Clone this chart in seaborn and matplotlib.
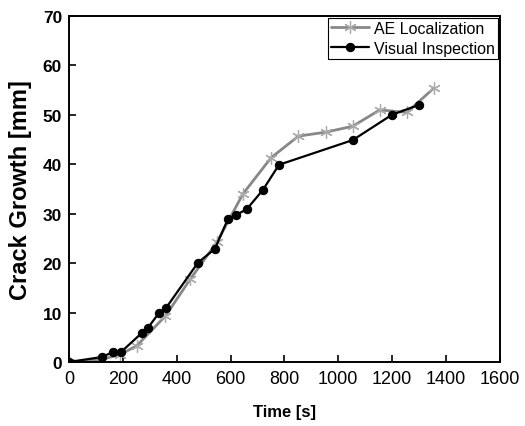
import matplotlib
matplotlib.use("Agg")
import matplotlib.pyplot as plt
import seaborn as sns
import pandas as pd

sns.set_theme(style="white")
plt.rcParams['font.family'] = ['Liberation Sans', 'DejaVu Sans']
plt.rcParams['text.color'] = 'black'
plt.rcParams['axes.labelcolor'] = 'black'
plt.rcParams['xtick.color'] = 'black'
plt.rcParams['ytick.color'] = 'black'

ae_time = [0, 120, 190, 252, 358, 451, 550, 646, 750, 852, 954, 1054, 1154, 1255, 1355]
ae_crack = [0, 0.5, 1.5, 3.3, 9.3, 16.8, 24.3, 34.0, 41.3, 45.7, 46.5, 47.7, 51.0, 50.5, 55.4]

vi_time = [0, 122, 163, 193, 271, 293, 334, 360, 479, 542, 590, 622, 660, 720, 780, 1054, 1199, 1299]
vi_crack = [0, 1.0, 2.0, 2.0, 5.9, 6.9, 9.9, 10.9, 20.1, 22.9, 28.9, 29.8, 30.9, 34.8, 39.9, 44.9, 50.0, 52.0]

x_ticks = [0, 200, 400, 600, 800, 1000, 1200, 1400, 1600]
y_ticks = [0, 10, 20, 30, 40, 50, 60, 70]

fig = plt.figure(figsize=(5.25, 4.27), dpi=100)
ax = fig.add_axes([0.1314, 0.1499, 0.8206, 0.8103])

sns.lineplot(x=ae_time, y=ae_crack, ax=ax, sort=False, color="#888888", linewidth=2,
             marker=(6, 2, 0), markersize=9, markeredgecolor="#aaaaaa",
             markerfacecolor="#aaaaaa", markeredgewidth=0.9, label="AE Localization")
sns.lineplot(x=vi_time, y=vi_crack, ax=ax, sort=False, color="black", linewidth=1.6,
             marker="o", markersize=6, markeredgecolor="black", markerfacecolor="black",
             label="Visual Inspection")

ax.set_xlim(0, 1600)
ax.set_ylim(0, 70)
ax.set_xticks(x_ticks)
ax.set_yticks(y_ticks)
ax.set_xticklabels([str(v) for v in x_ticks], fontsize=13, color="black")
ax.set_yticklabels([str(v) for v in y_ticks], fontsize=12.5, fontweight="bold", color="black")
ax.tick_params(axis="both", direction="in", length=5, width=1.2, top=False, right=False,
               bottom=True, left=True, pad=5, colors="black")
ax.tick_params(axis="x", pad=6)
for s in ax.spines.values():
    s.set_color("black")
    s.set_linewidth(1.4)

ax.set_xlabel("Time [s]", fontsize=12, fontweight="bold", labelpad=12, color="black")
ax.set_ylabel("Crack Growth [mm]", fontsize=17, fontweight="bold", labelpad=8, color="black")

leg = ax.legend(loc="upper right", fontsize=11.5, frameon=True, fancybox=False,
                edgecolor="black", framealpha=1, borderaxespad=0.1, handlelength=2.4,
                handletextpad=0.3, borderpad=0.2, labelspacing=0.3)
leg.get_frame().set_linewidth(0.8)
for t in leg.get_texts():
    t.set_color("black")

fig.savefig("out.png", dpi=100)
